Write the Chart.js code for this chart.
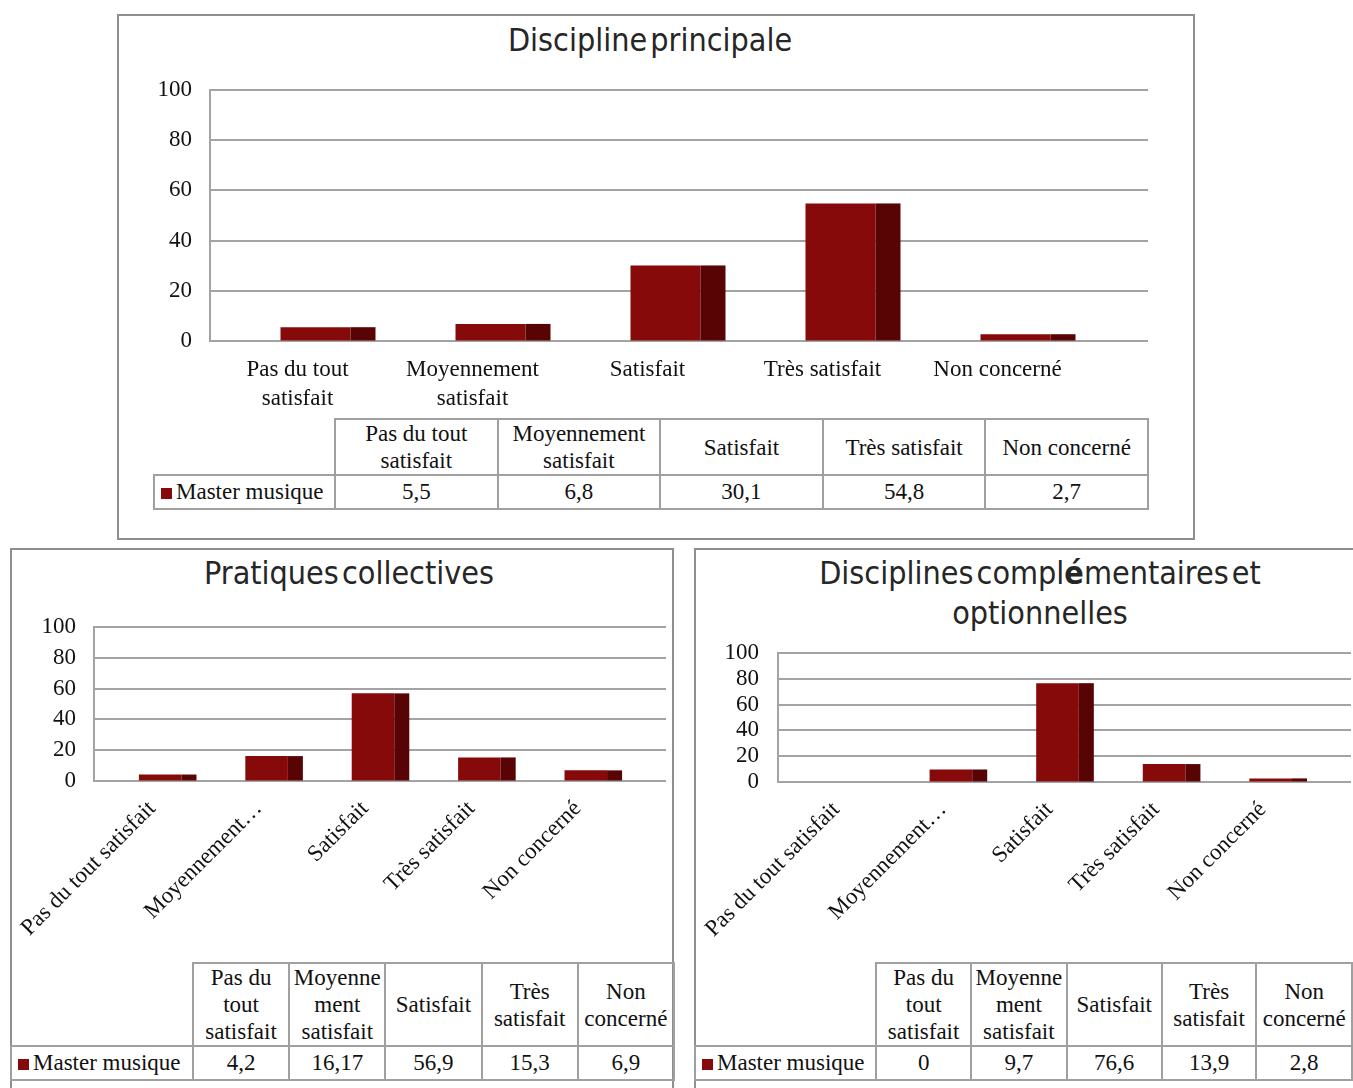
<!DOCTYPE html>
<html>
<head>
<meta charset="utf-8">
<script src="https://cdn.jsdelivr.net/npm/chart.js"></script>
<style>
  body { margin: 0; background: #fff; width: 1353px; height: 1088px; overflow: hidden; position: relative; font-family: "Liberation Serif", serif; }
  .box { position: absolute; border: 2px solid #8f8f8f; box-sizing: border-box; }
  .title { position: absolute; text-align: center; font-family: "Liberation Sans Narrow", "DejaVu Sans Condensed", sans-serif; font-size: 32px; color: #262626; line-height: 40px; word-spacing: -6px; }
  .title b { font-weight: bold; }
  canvas { position: absolute; }
  table { position: absolute; border-collapse: collapse; table-layout: fixed; font-size: 23px; color: #111; }
  td { border: 2px solid #a0a0a0; text-align: center; padding: 0; }
  td.blank { border: none; }
  td.name { text-align: left; padding-left: 6px; white-space: nowrap; }
  .key { display: inline-block; width: 11px; height: 11px; background: #870a0a; margin-right: 4px; }
</style>
</head>
<body>
<div class="box" style="left:117px;top:14px;width:1078px;height:526px"></div>
<div class="box" style="left:10px;top:548px;width:664px;height:560px"></div>
<div class="box" style="left:694px;top:548px;width:700px;height:560px"></div>

<div class="title" style="left:111px;top:20px;width:1078px">Discipline principale</div>
<div class="title" style="left:17px;top:553px;width:664px">Pratiques collectives</div>
<div class="title" style="left:694px;top:553px;width:692px">Disciplines compl<b>é</b>mentaires et<br>optionnelles</div>

<canvas id="c1" width="1013" height="340" style="left:140px;top:75px"></canvas>
<canvas id="c2" width="660" height="340" style="left:12px;top:610px"></canvas>
<canvas id="c3" width="657" height="314" style="left:696px;top:636px"></canvas>

<table id="t1" style="left:153px;top:418px"></table>
<table id="t2" style="left:10px;top:962px"></table>
<table id="t3" style="left:694px;top:962px"></table>

<script>
const seriesName = "Master musique";
const principaleValues = [5.5, 6.8, 30.1, 54.8, 2.7];
const collectivesValues = [4.2, 16.17, 56.9, 15.3, 6.9];
const complementairesValues = [0, 9.7, 76.6, 13.9, 2.8];

const principaleLabels = [["Pas du tout", "satisfait"], ["Moyennement", "satisfait"], "Satisfait", "Très satisfait", "Non concerné"];
const rotatedLabels = ["Pas du tout satisfait", "Moyennement…", "Satisfait", "Très satisfait", "Non concerné"];
const principaleHeaders = [["Pas du tout", "satisfait"], ["Moyennement", "satisfait"], ["Satisfait"], ["Très satisfait"], ["Non concerné"]];
const narrowHeaders = [["Pas du", "tout", "satisfait"], ["Moyenne", "ment", "satisfait"], ["Satisfait"], ["Très", "satisfait"], ["Non", "concerné"]];

const frontColor = "#870a0a";
const sideColor = "#580404";

// grid lines that run past the floor, plus the dark side of each column
const depth3d = {
  id: "depth3d",
  beforeDatasetsDraw(chart, args, o) {
    const { ctx, chartArea: a, scales: { y } } = chart;
    ctx.save();
    ctx.strokeStyle = "#a3a3a3";
    ctx.lineWidth = 2;
    y.ticks.forEach((t) => {
      const py = Math.round(y.getPixelForValue(t.value));
      ctx.beginPath();
      ctx.moveTo(a.left - o.axisOff, py);
      ctx.lineTo(a.right + o.ext, py);
      ctx.stroke();
    });
    const x0 = a.left - o.axisOff;
    ctx.beginPath();
    ctx.moveTo(x0, y.getPixelForValue(y.max) - 1);
    ctx.lineTo(x0, y.getPixelForValue(y.min) + 1);
    ctx.stroke();
    ctx.restore();
  },
  afterDatasetsDraw(chart, args, o) {
    const ctx = chart.ctx;
    ctx.save();
    ctx.fillStyle = sideColor;
    chart.getDatasetMeta(0).data.forEach((bar) => {
      const p = bar.getProps(["x", "y", "base", "width"], true);
      if (p.base - p.y < 0.5) return;
      ctx.fillRect(p.x + p.width / 2, p.y, o.depth, p.base - p.y);
    });
    ctx.restore();
  },
};

function makeChart(id, labels, values, s) {
  return new Chart(document.getElementById(id), {
    type: "bar",
    data: {
      labels: labels,
      datasets: [{
        label: seriesName,
        data: values,
        backgroundColor: frontColor,
        borderWidth: 0,
        barPercentage: 0.4,
        categoryPercentage: 1,
      }],
    },
    options: {
      responsive: false,
      animation: false,
      layout: { padding: { top: s.padTop, right: s.padRight, left: 0, bottom: 0 } },
      plugins: {
        legend: { display: false },
        tooltip: { enabled: false },
        depth3d: { depth: s.depth, ext: s.ext, axisOff: s.axisOff },
      },
      scales: {
        x: {
          grid: { display: false, drawTicks: false },
          border: { display: false },
          afterFit: (scale) => {
            scale.height = s.xHeight;
            // slanted labels may hang past the plot, do not let them push it
            scale.paddingLeft = 0;
            scale.paddingRight = 0;
          },
          ticks: {
            autoSkip: false,
            maxRotation: s.rot,
            minRotation: s.rot,
            padding: s.xPad,
            labelOffset: s.xShift,
            color: "#111",
            font: { family: "Liberation Serif", size: 23, lineHeight: 1.24 },
          },
        },
        y: {
          min: 0,
          max: 100,
          // invisible tick marks give the gap between labels and plot
          grid: { display: true, drawOnChartArea: false, drawTicks: true, tickLength: s.yGap, color: "rgba(0,0,0,0)" },
          border: { display: false },
          afterFit: (scale) => { scale.width = s.yWidth; },
          ticks: {
            stepSize: 20,
            autoSkip: false,
            padding: 0,
            color: "#111",
            font: { family: "Liberation Serif", size: 23, lineHeight: 1 },
          },
        },
      },
    },
    plugins: [depth3d],
  });
}

makeChart("c1", principaleLabels, principaleValues,
  { padTop: 15, padRight: 50, xHeight: 74, yWidth: 88, yGap: 36, xPad: 15, xShift: -18, rot: 0, depth: 25, ext: 45, axisOff: 18 });
makeChart("c2", rotatedLabels, collectivesValues,
  { padTop: 17, padRight: 33, xHeight: 169, yWidth: 95, yGap: 31, xPad: 14, xShift: -8, rot: 45, depth: 15, ext: 27, axisOff: 13 });
makeChart("c3", rotatedLabels, complementairesValues,
  { padTop: 17, padRight: 29, xHeight: 168, yWidth: 95, yGap: 32, xPad: 14, xShift: -8, rot: 45, depth: 15, ext: 27, axisOff: 13 });

function fmt(v) {
  return String(v).replace(".", ",");
}

function buildTable(id, headers, values, firstW, colW, headH, rowH, lh) {
  const t = document.getElementById(id);
  let html = "<colgroup><col style='width:" + firstW + "px'>";
  headers.forEach(() => { html += "<col style='width:" + colW + "px'>"; });
  html += "</colgroup><tr style='height:" + headH + "px'><td class='blank'></td>";
  headers.forEach((h) => { html += "<td style='line-height:" + lh + "px'>" + h.join("<br>") + "</td>"; });
  html += "</tr><tr style='height:" + rowH + "px'><td class='name'><span class='key'></span>" + seriesName + "</td>";
  values.forEach((v) => { html += "<td>" + fmt(v) + "</td>"; });
  html += "</tr>";
  t.innerHTML = html;
}

buildTable("t1", principaleHeaders, principaleValues, 181, 162.6, 53, 34, 27);
buildTable("t2", narrowHeaders, collectivesValues, 182, 96.2, 82, 34, 27);
buildTable("t3", narrowHeaders, complementairesValues, 182, 96.2, 82, 34, 27);
</script>
</body>
</html>
